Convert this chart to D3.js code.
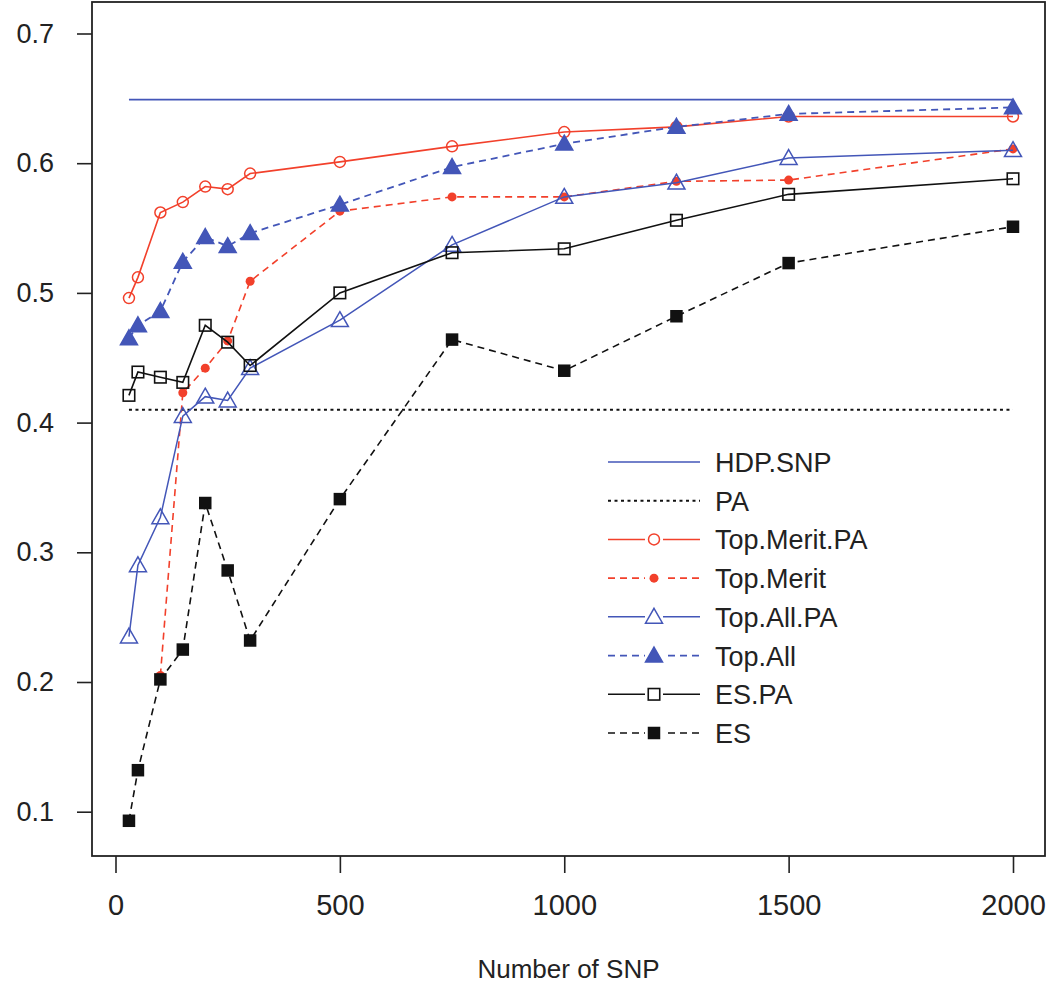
<!DOCTYPE html>
<html lang="en">
<head>
    <title>Accuracy by number of SNP</title>
    <meta charset="utf-8">
    <script src="https://d3js.org/d3.v7.min.js"></script>
    <style>
        body { margin: 0; background: #fff; }
        text { font-family: "Liberation Sans", Arial, sans-serif; fill: #222; }
    </style>
</head>
<body>
<div id="chart"></div>
<script>
    // Values
    const snp = [30, 50, 100, 150, 200, 250, 300, 500, 750, 1000, 1250, 1500, 2000];
    const hdpSnp = 0.649;
    const pa = 0.410;
    const topMeritPA = [0.496, 0.512, 0.562, 0.570, 0.582, 0.580, 0.592, 0.601, 0.613, 0.624, 0.628, 0.636, 0.636];
    const topMerit = [null, null, 0.205, 0.423, 0.442, 0.463, 0.509, 0.563, 0.574, 0.574, 0.586, 0.587, 0.611];
    const topAllPA = [0.235, 0.290, 0.327, 0.405, 0.420, 0.417, 0.442, 0.479, 0.537, 0.574, 0.585, 0.604, 0.610];
    const topAll = [0.465, 0.475, 0.486, 0.524, 0.543, 0.536, 0.546, 0.568, 0.597, 0.615, 0.628, 0.638, 0.643];
    const esPA = [0.421, 0.439, 0.435, 0.431, 0.475, 0.462, 0.444, 0.500, 0.531, 0.534, 0.556, 0.576, 0.588];
    const es = [0.093, 0.132, 0.202, 0.225, 0.338, 0.286, 0.232, 0.341, 0.464, 0.440, 0.482, 0.523, 0.551];

    const xTicks = [0, 500, 1000, 1500, 2000];
    const yTicks = [0.1, 0.2, 0.3, 0.4, 0.5, 0.6, 0.7];

    const blue = "#4356b8", red = "#f2402b", black = "#111";

    const width = 1050, height = 986;
    const box = {left: 92, top: 2, right: 1045, bottom: 856};

    const svg = d3.select("#chart")
        .append("svg")
        .attr("width", width)
        .attr("height", height);

    const x = d3.scaleLinear().domain([0, 2000]).range([115.5, 1013]);
    const y = d3.scaleLinear().domain([0.1, 0.7]).range([811.7, 33.5]);

    // plot frame
    svg.append("rect")
        .attr("x", box.left).attr("y", box.top)
        .attr("width", box.right - box.left).attr("height", box.bottom - box.top)
        .attr("fill", "none").attr("stroke", "#222").attr("stroke-width", 1.8);

    // axes
    const xAxis = svg.append("g")
        .attr("transform", `translate(0, ${box.bottom})`)
        .call(d3.axisBottom(x).tickValues(xTicks).tickSize(17).tickPadding(21).tickFormat(d3.format("d")));
    xAxis.select(".domain").remove();
    xAxis.selectAll("line").attr("stroke", "#222").attr("stroke-width", 1.6);
    xAxis.selectAll("text").attr("font-size", 29).attr("fill", "#222")
        .attr("font-family", "Liberation Sans, Arial, sans-serif");

    const yAxis = svg.append("g")
        .attr("transform", `translate(${box.left}, 0)`)
        .call(d3.axisLeft(y).tickValues(yTicks).tickSize(15).tickPadding(23).tickFormat(d3.format(".1f")));
    yAxis.select(".domain").remove();
    yAxis.selectAll("line").attr("stroke", "#222").attr("stroke-width", 1.6);
    yAxis.selectAll("text").attr("font-size", 27).attr("fill", "#333")
        .attr("font-family", "Liberation Sans, Arial, sans-serif");

    svg.append("text")
        .attr("x", (box.left + box.right) / 2)
        .attr("y", 978)
        .attr("text-anchor", "middle")
        .attr("font-size", 26)
        .text("Number of SNP");

    // marker shapes
    const drawMarker = (g, kind, cx, cy, color) => {
        if (kind === "circle") {
            g.append("circle").attr("cx", cx).attr("cy", cy).attr("r", 5.5)
                .attr("fill", "none").attr("stroke", color).attr("stroke-width", 1.5);
        } else if (kind === "dot") {
            g.append("circle").attr("cx", cx).attr("cy", cy).attr("r", 4.5).attr("fill", color);
        } else if (kind === "tri" || kind === "triFill") {
            const s = 8.5;
            g.append("path")
                .attr("d", `M${cx},${cy - s} L${cx + s},${cy + s * 0.75} L${cx - s},${cy + s * 0.75} Z`)
                .attr("fill", kind === "triFill" ? color : "none")
                .attr("stroke", color).attr("stroke-width", 1.5);
        } else if (kind === "sq" || kind === "sqFill") {
            const s = kind === "sq" ? 11.5 : 12.5;
            g.append("rect").attr("x", cx - s / 2).attr("y", cy - s / 2).attr("width", s).attr("height", s)
                .attr("fill", kind === "sqFill" ? color : "none")
                .attr("stroke", color).attr("stroke-width", kind === "sq" ? 1.6 : 0);
        }
    };

    const series = [
        {name: "HDP.SNP", values: snp.map(() => hdpSnp), color: blue, dash: null, marker: null, width: 1.6},
        {name: "PA", values: snp.map(() => pa), color: black, dash: "3,3.5", marker: null, width: 2},
        {name: "Top.Merit.PA", values: topMeritPA, color: red, dash: null, marker: "circle", width: 1.6},
        {name: "Top.Merit", values: topMerit, color: red, dash: "7,5", marker: "dot", width: 1.6},
        {name: "Top.All.PA", values: topAllPA, color: blue, dash: null, marker: "tri", width: 1.5},
        {name: "Top.All", values: topAll, color: blue, dash: "7,5", marker: "triFill", width: 1.8},
        {name: "ES.PA", values: esPA, color: black, dash: null, marker: "sq", width: 1.6},
        {name: "ES", values: es, color: black, dash: "7,5", marker: "sqFill", width: 1.6}
    ];

    const line = d3.line()
        .defined(d => d.v !== null)
        .x(d => x(d.n))
        .y(d => y(d.v));

    series.forEach(s => {
        const pts = snp.map((n, i) => ({n: n, v: s.values[i]}));
        const g = svg.append("g");
        g.append("path")
            .datum(pts)
            .attr("d", line)
            .attr("fill", "none")
            .attr("stroke", s.color)
            .attr("stroke-width", s.width)
            .attr("stroke-dasharray", s.dash);
        if (s.marker) {
            pts.filter(d => d.v !== null)
                .forEach(d => drawMarker(g, s.marker, x(d.n), y(d.v), s.color));
        }
    });

    // legend
    const legend = svg.append("g");
    const rowY = d3.scaleLinear().domain([0, 7]).range([462, 733]);
    series.forEach((s, i) => {
        const ly = rowY(i);
        legend.append("line")
            .attr("x1", 608).attr("x2", 700).attr("y1", ly).attr("y2", ly)
            .attr("stroke", s.color).attr("stroke-width", s.width)
            .attr("stroke-dasharray", s.dash);
        if (s.marker) {
            legend.append("rect").attr("x", 645).attr("y", ly - 8).attr("width", 18).attr("height", 16)
                .attr("fill", "#fff");
            drawMarker(legend, s.marker, 654, ly, s.color);
        }
        legend.append("text")
            .attr("x", 715).attr("y", ly + 10)
            .attr("font-size", 27)
            .text(s.name);
    });
</script>
</body>
</html>
